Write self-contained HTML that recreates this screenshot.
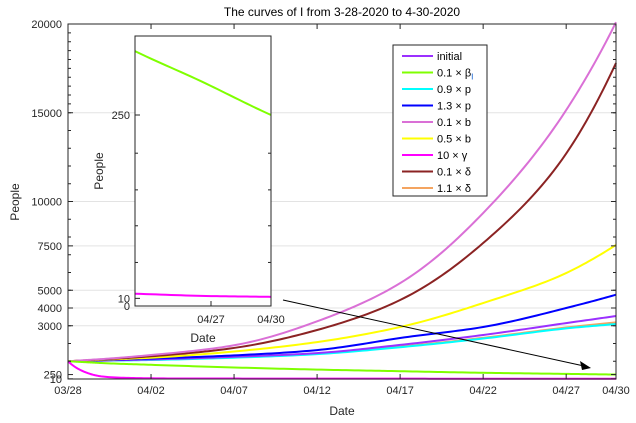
<!DOCTYPE html>
<html><head><meta charset="utf-8"><style>
body{margin:0;background:#fff;}
svg{font-family:"Liberation Sans",sans-serif;display:block;}
</style></head><body>
<svg id="chart" width="636" height="423"></svg>
<script>
const days = [0,1,2,5,10,15,20,25,30,33];
const initialVals = [1000,1020,1040,1100,1250,1460,1920,2480,3150,3550];
const betaVals = [1000,950,900,800,650,530,440,350,288,250];
const p09Vals = [1000,1015,1030,1070,1200,1400,1790,2280,2850,3100];
const p13Vals = [1000,1030,1060,1150,1330,1630,2310,2930,4000,4750];
const b01Vals = [1000,1060,1120,1350,1900,3250,5400,9350,15150,20100];
const b05Vals = [1000,1040,1080,1200,1550,2080,2930,4280,5970,7550];
const gammaVals = [1000,400,150,40,25,20,18,17,13,12];
const d01Vals = [1000,1050,1100,1280,1750,2760,4450,7660,12700,17800];
const d11Vals = [1000,1015,1030,1080,1220,1420,1820,2320,2900,3190];
const seriesNames = ['initial','0.1 × β','0.9 × p','1.3 × p','0.1 × b','0.5 × b','10 × γ','0.1 × δ','1.1 × δ'];
const seriesColors = ['#9b30ff','#7fff00','#00ffff','#0000ff','#da70d6','#ffff00','#ff00ff','#8b2323','#f4a460'];
const seriesVals = [initialVals,betaVals,p09Vals,p13Vals,b01Vals,b05Vals,gammaVals,d01Vals,d11Vals];
const xTickDays = [0,5,10,15,20,25,30,33];
const xTickLabels = ['03/28','04/02','04/07','04/12','04/17','04/22','04/27','04/30'];
const yTicks = [10,250,3000,4000,5000,7500,10000,15000,20000];
const insetYTicks = [0,10,250];
const insetXTickDays = [30,33];
const insetXTickLabels = ['04/27','04/30'];

const NS='http://www.w3.org/2000/svg';
const svg=document.getElementById('chart');
function el(t,a,p){const e=document.createElementNS(NS,t);for(const k in a)e.setAttribute(k,a[k]);(p||svg).appendChild(e);return e;}
const L=68,R=616,T=24,B=379;
const X=d=>L+(R-L)*d/33;
const Y=v=>B-(B-T)*v/20000;

function curve(xs,vals,fx,fy){
  const ys=vals.map(v=>Math.log(v));
  const n=xs.length,d=[],m=[];
  for(let i=0;i<n-1;i++)d.push((ys[i+1]-ys[i])/(xs[i+1]-xs[i]));
  m[0]=d[0];m[n-1]=d[n-2];
  for(let i=1;i<n-1;i++){const h0=xs[i]-xs[i-1],h1=xs[i+1]-xs[i];
    m[i]=d[i-1]*d[i]<=0?0:(h1*d[i-1]+h0*d[i])/(h0+h1);}
  const pts=[];
  for(let i=0;i<n-1;i++){const h=xs[i+1]-xs[i];
    for(let k=0;k<20;k++){const t=k/20,t2=t*t,t3=t2*t;
      const y=(2*t3-3*t2+1)*ys[i]+(t3-2*t2+t)*h*m[i]+(-2*t3+3*t2)*ys[i+1]+(t3-t2)*h*m[i+1];
      pts.push(fx(xs[i]+t*h).toFixed(2)+','+fy(Math.exp(y)).toFixed(2));}}
  pts.push(fx(xs[n-1]).toFixed(2)+','+fy(vals[n-1]).toFixed(2));
  return 'M'+pts.join(' L');
}

yTicks.forEach(v=>{if(v>=3000){const g=el('line',{x1:L,x2:R,y1:Y(v),y2:Y(v),stroke:'#e3e3e3','stroke-width':1});
}});
const tt=el('text',{x:342,y:16,'text-anchor':'middle','font-size':12});tt.textContent='The curves of I from 3-28-2020 to 4-30-2020';


const order=[8,2,0,3,5,7,4,1,6];
order.forEach(i=>{
  const pth=el('path',{d:curve(days,seriesVals[i],X,Y),fill:'none',stroke:seriesColors[i],'stroke-width':2,'stroke-linejoin':'round'});
  
});

const box=el('rect',{x:L,y:T,width:R-L,height:B-T,fill:'none',stroke:'#262626','stroke-width':1});

xTickDays.forEach((d,i)=>{
  el('line',{x1:X(d),x2:X(d),y1:B,y2:B-5,stroke:'#262626'});
  el('line',{x1:X(d),x2:X(d),y1:T,y2:T+5,stroke:'#262626'});
  const t=el('text',{x:X(d),y:B+15,'text-anchor':'middle','font-size':11,fill:'#262626'});t.textContent=xTickLabels[i];
  
});
for(let v=1000;v<20000;v+=(v>=15000?500:1000)){
  el('line',{x1:L,x2:L+3,y1:Y(v),y2:Y(v),stroke:'#262626'});
  el('line',{x1:R,x2:R-3,y1:Y(v),y2:Y(v),stroke:'#262626'});
}
yTicks.forEach(v=>{
  el('line',{x1:L,x2:L+5,y1:Y(v),y2:Y(v),stroke:'#262626'});
  el('line',{x1:R,x2:R-5,y1:Y(v),y2:Y(v),stroke:'#262626'});
  const t=el('text',{x:L-6,y:Y(v)+4,'text-anchor':'end','font-size':11,fill:'#262626'});t.textContent=v;
  
});
const xl=el('text',{x:342,y:415,'text-anchor':'middle','font-size':12,fill:'#262626'});xl.textContent='Date';

const yl=el('text',{x:0,y:0,'text-anchor':'middle','font-size':12,fill:'#262626',transform:'translate(19,202) rotate(-90)'});yl.textContent='People';


const ar=el('line',{x1:283,y1:300,x2:584,y2:366,stroke:'#000','stroke-width':1});

el('polygon',{points:'591,368 580,361 582,370',fill:'#000'});

const IL=135,IR=271,IT=36,IB=306,d0=26.2;
const IX=d=>IL+(IR-IL)*(d-d0)/(33-d0);
const IY=v=>IB-v*0.764;
const ib=el('rect',{x:IL,y:IT,width:IR-IL,height:IB-IT,fill:'#fff',stroke:'none'});

el('clipPath',{id:'ic'});el('rect',{x:IL,y:IT,width:IR-IL,height:IB-IT},svg.lastChild);
[1,6].forEach(i=>{
  const pth=el('path',{d:curve(days,seriesVals[i],IX,IY),fill:'none',stroke:seriesColors[i],'stroke-width':2,'clip-path':'url(#ic)'});
  
});
const ibox=el('rect',{x:IL,y:IT,width:IR-IL,height:IB-IT,fill:'none',stroke:'#262626','stroke-width':1});

[57,105,152,200].forEach(v=>{el('line',{x1:IL,x2:IL+3,y1:IY(v),y2:IY(v),stroke:'#262626'});el('line',{x1:IR,x2:IR-3,y1:IY(v),y2:IY(v),stroke:'#262626'});});
insetYTicks.forEach(v=>{
  el('line',{x1:IL,x2:IL+5,y1:IY(v),y2:IY(v),stroke:'#262626'});
  const t=el('text',{x:IL-5,y:IY(v)+4,'text-anchor':'end','font-size':11,fill:'#262626'});t.textContent=v;
  
});
insetXTickDays.forEach((d,i)=>{
  el('line',{x1:IX(d),x2:IX(d),y1:IB,y2:IB-5,stroke:'#262626'});
  const t=el('text',{x:IX(d),y:IB+17,'text-anchor':'middle','font-size':11,fill:'#262626'});t.textContent=insetXTickLabels[i];
  
});
const ixl=el('text',{x:203,y:342,'text-anchor':'middle','font-size':12,fill:'#262626'});ixl.textContent='Date';

const iyl=el('text',{x:0,y:0,'text-anchor':'middle','font-size':12,fill:'#262626',transform:'translate(103,171) rotate(-90)'});iyl.textContent='People';


const lg=el('rect',{x:393,y:45,width:94,height:151,fill:'#fff',stroke:'#262626','stroke-width':1});

seriesNames.forEach((n,i)=>{
  const y=56+i*16.5;
  el('line',{x1:402,x2:433,y1:y,y2:y,stroke:seriesColors[i],'stroke-width':2});
  const t=el('text',{x:437,y:y+4,'font-size':11,fill:'#000'});t.textContent=n;
  
  if(i===1){const s=el('tspan',{'font-size':8,dy:3,fill:'#0055cc'},t);s.textContent='I';}
});
</script>
</body></html>
